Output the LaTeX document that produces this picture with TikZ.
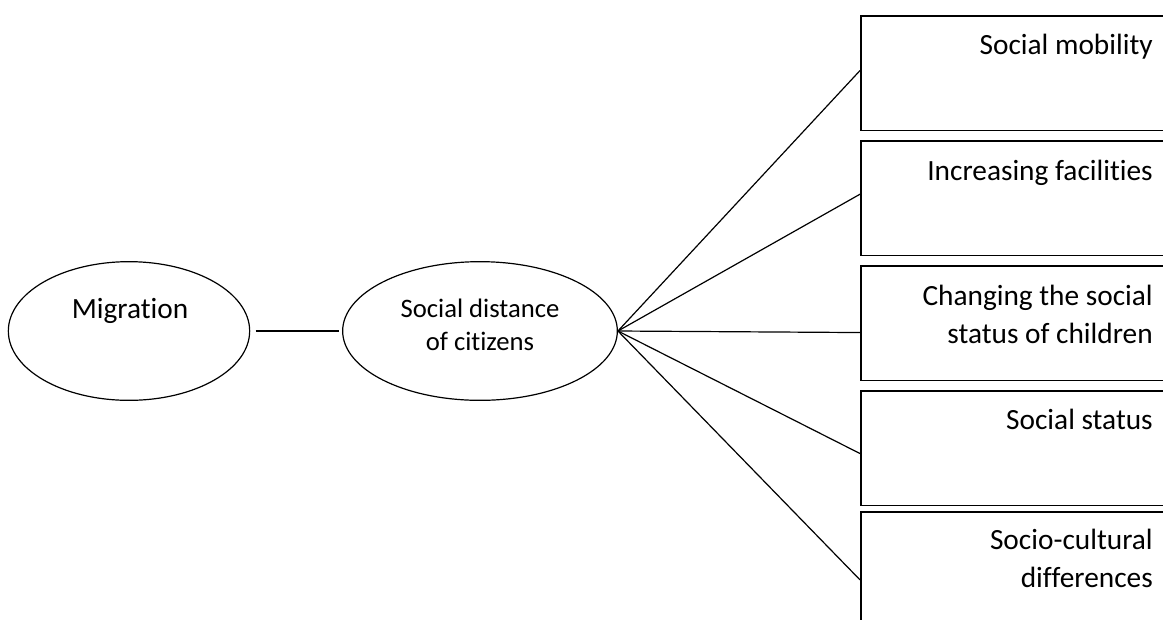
\documentclass[tikz,border=0pt]{standalone}
\usepackage{fontspec}
\setmainfont{Carlito}[Ligatures=NoCommon]
\usetikzlibrary{shapes.geometric}
\begin{document}
\begin{tikzpicture}[x=0.75pt,y=-0.75pt,
  oval/.style={draw,ellipse,line width=0.9pt,inner sep=0pt},
  boxnode/.style={draw,rectangle,line width=1.3pt,anchor=north west,minimum width=240pt,minimum height=86pt,inner sep=0pt},
  boxtext/.style={anchor=base east,font=\fontsize{22pt}{28.5pt}\selectfont,align=right,inner sep=0pt},
  link/.style={line width=0.9pt}]
\useasboundingbox (0,0) rectangle (1163,619);
\clip (0,0) rectangle (1163,619);
\node[oval,minimum width=181pt,minimum height=104pt] (mig) at (129,331) {};
\node[oval,minimum width=206pt,minimum height=104pt] (sd) at (480,331) {};
\node[anchor=base,font=\fontsize{22pt}{26pt}\selectfont,inner sep=0pt] (migt) at (130,318) {Migration};
\node[anchor=base,font=\fontsize{20pt}{24.75pt}\selectfont,align=center,inner sep=0pt] (sdt) at (480,350) {Social distance\\of citizens};
\node[boxnode] (b1) at (860,15) {};
\node[boxnode] (b2) at (860,140) {};
\node[boxnode] (b3) at (860,265) {};
\node[boxnode] (b4) at (860,390) {};
\node[boxnode] (b5) at (860,511) {};
\node[boxtext] (t1) at (1153,54) {Social mobility};
\node[boxtext] (t2) at (1153,180) {Increasing facilities};
\node[boxtext] (t3) at (1153,343) {Changing the social\\status of children};
\node[boxtext] (t4) at (1153,429) {Social status};
\node[boxtext] (t5) at (1153,587) {Socio-cultural\\differences};
\draw[link,shorten <=4pt,shorten >=2pt] (mig.east) -- (sd.west);
\draw[link] (sd.east) -- ([yshift=2pt]b1.west);
\draw[link] (sd.east) -- ([yshift=3pt]b2.west);
\draw[link] (sd.east) -- ([yshift=-7pt]b3.west);
\draw[link] (sd.east) -- ([yshift=-4pt]b4.west);
\draw[link] (sd.east) -- ([yshift=-8pt]b5.west);
\end{tikzpicture}
\end{document}
